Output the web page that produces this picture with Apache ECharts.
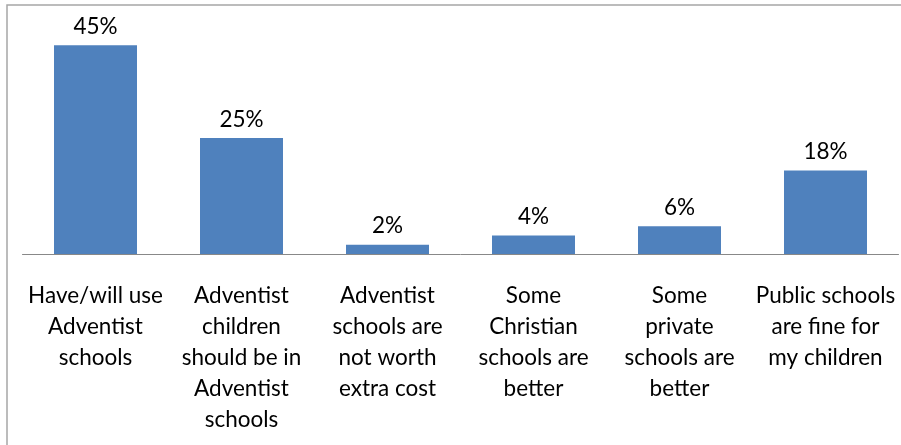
<!DOCTYPE html>
<html>
<head>
<meta charset="utf-8">
<script src="https://cdn.jsdelivr.net/npm/echarts@6/dist/echarts.min.js"></script>
<style>html,body{margin:0;padding:0;background:#fff;}#c{width:901px;height:445px;}</style>
</head>
<body>
<div id="c"></div>
<script>
const categories = [
  "Have/will use\nAdventist\nschools",
  "Adventist\nchildren\nshould be in\nAdventist\nschools",
  "Adventist\nschools are\nnot worth\nextra cost",
  "Some\nChristian\nschools are\nbetter",
  "Some\nprivate\nschools are\nbetter",
  "Public schools\nare fine for\nmy children"
];
const values = [45, 25, 2, 4, 6, 18];

const chart = echarts.init(document.getElementById('c'));
chart.setOption({
  animation: false,
  backgroundColor: '#fff',
  textStyle: { fontFamily: 'Lato' },
  graphic: [{
    type: 'rect', silent: true, z: -1,
    shape: { x: 7, y: 5, width: 1000, height: 1000 },
    style: { fill: 'none', stroke: '#a6a6a6', lineWidth: 1.5 }
  }],
  grid: { left: 22.5, top: 22, width: 876, height: 232 },
  xAxis: {
    type: 'category', data: categories,
    axisTick: { show: false },
    axisLine: { lineStyle: { color: '#888888', width: 1 } },
    axisLabel: { interval: 0, color: '#000', fontSize: 22.5, lineHeight: 31, margin: 26, fontFamily: 'Lato' }
  },
  yAxis: { type: 'value', min: 0, max: 50, show: false, splitLine: { show: false } },
  series: [{
    type: 'bar', data: values, barWidth: 83,
    itemStyle: { color: '#4F81BD' },
    label: { show: true, position: 'top', distance: 7, formatter: '{c}%', color: '#000', fontSize: 22.5, fontFamily: 'Lato' }
  }]
});
</script>
</body>
</html>
